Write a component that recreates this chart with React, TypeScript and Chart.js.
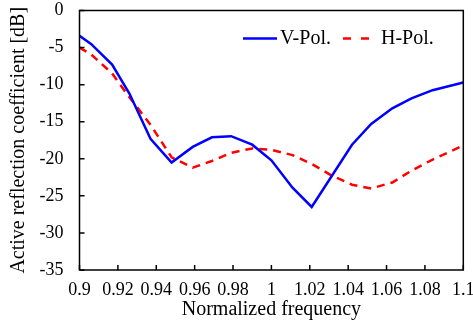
import { useEffect, useRef } from 'react';
import { Chart, registerables } from 'chart.js';

Chart.register(...registerables);

const seriesLabels = ['V-Pol.', 'H-Pol.'];

const vFreq = [0.9, 0.906, 0.917, 0.926, 0.937, 0.948, 0.959, 0.969, 0.979, 0.99, 1.0, 1.011, 1.021, 1.042, 1.052, 1.063, 1.073, 1.084, 1.1];
const vVal = [-3.4, -4.5, -7.3, -11.2, -17.3, -20.5, -18.4, -17.1, -16.95, -18.1, -20.2, -23.9, -26.5, -18.1, -15.3, -13.2, -11.85, -10.75, -9.7];

const hFreq = [0.9, 0.906, 0.917, 0.926, 0.937, 0.948, 0.959, 0.969, 0.979, 0.99, 1.0, 1.011, 1.021, 1.031, 1.042, 1.052, 1.063, 1.073, 1.084, 1.1];
const hVal = [-5.0, -5.9, -8.5, -11.7, -15.4, -19.8, -21.2, -20.3, -19.2, -18.6, -18.8, -19.5, -20.7, -22.2, -23.5, -24.0, -23.2, -21.6, -20.1, -18.2];

const xMin = 0.9;
const xMax = 1.1;
const xStep = 0.02;
const yMin = -35;
const yMax = 0;
const yStep = 5;

const FONT = '"Liberation Serif", "Times New Roman", serif';

export default function App() {
  const ref = useRef<HTMLCanvasElement>(null);

  useEffect(() => {
    document.body.style.margin = '0';
    if (!ref.current) return;

    const framePlugin = {
      id: 'frameTicksLegend',
      afterDraw(chart: any) {
        const { ctx, chartArea } = chart;
        const { left, right, top, bottom } = chartArea;
        ctx.save();
        ctx.strokeStyle = '#000';
        ctx.lineWidth = 1.5;
        ctx.setLineDash([]);
        ctx.strokeRect(left, top, right - left, bottom - top);
        const xs = chart.scales.x;
        const ys = chart.scales.y;
        ctx.beginPath();
        xs.ticks.forEach((t: any) => {
          const px = xs.getPixelForValue(t.value);
          ctx.moveTo(px, bottom);
          ctx.lineTo(px, bottom - 5);
        });
        ys.ticks.forEach((t: any) => {
          const py = ys.getPixelForValue(t.value);
          ctx.moveTo(left, py);
          ctx.lineTo(left + 5, py);
        });
        ctx.stroke();

        // legend
        const items = [
          { x0: 243, x1: 277, tx: 280 },
          { x0: 343, x1: 370, tx: 381 },
        ];
        const ly = 38.5;
        chart.data.datasets.forEach((ds: any, i: number) => {
          const it = items[i];
          ctx.beginPath();
          ctx.strokeStyle = ds.borderColor;
          ctx.lineWidth = ds.borderWidth;
          ctx.setLineDash(ds.borderDash ? [8, 10] : []);
          ctx.moveTo(it.x0, ly);
          ctx.lineTo(it.x1, ly);
          ctx.stroke();
          ctx.setLineDash([]);
          ctx.fillStyle = '#000';
          ctx.font = `20px ${FONT}`;
          ctx.textBaseline = 'middle';
          ctx.textAlign = 'left';
          ctx.fillText(ds.label, it.tx, ly);
        });
        ctx.restore();
      },
    };

    const chart = new Chart(ref.current, {
      type: 'line',
      data: {
        datasets: [
          {
            label: seriesLabels[0],
            data: vFreq.map((f, i) => ({ x: f, y: vVal[i] })),
            borderColor: '#0000FF',
            backgroundColor: '#0000FF',
            borderWidth: 2.5,
            pointRadius: 0,
            tension: 0,
            fill: false,
          },
          {
            label: seriesLabels[1],
            data: hFreq.map((f, i) => ({ x: f, y: hVal[i] })),
            borderColor: '#FF0000',
            backgroundColor: '#FF0000',
            borderWidth: 2.5,
            borderDash: [8, 6],
            pointRadius: 0,
            tension: 0,
            fill: false,
          },
        ],
      },
      options: {
        responsive: false,
        animation: false,
        layout: { padding: { top: 10.5, right: 9.7, left: 0, bottom: 0 } },
        plugins: {
          legend: { display: false },
          tooltip: { enabled: false },
        },
        scales: {
          x: {
            type: 'linear',
            min: xMin,
            max: xMax,
            grid: { display: false, drawTicks: false },
            border: { display: false },
            ticks: {
              stepSize: xStep,
              padding: 9.5,
              maxRotation: 0,
              autoSkip: false,
              color: '#000',
              font: { family: FONT, size: 18 },
              callback: (v: any) => String(Number(Number(v).toFixed(2))),
            },
            title: {
              display: true,
              text: 'Normalized frequency',
              color: '#000',
              font: { family: FONT, size: 20 },
              padding: { top: 0, bottom: 14 },
            },
            afterFit: (s: any) => {
              s.height = 66;
              s.paddingLeft = 0;
              s.paddingRight = 0;
            },
          },
          y: {
            type: 'linear',
            min: yMin,
            max: yMax,
            grid: { display: false, drawTicks: false },
            border: { display: false },
            ticks: {
              stepSize: yStep,
              padding: 16,
              color: '#000',
              font: { family: FONT, size: 18 },
            },
            title: {
              display: true,
              text: 'Active reflection coefficient [dB]',
              color: '#000',
              font: { family: FONT, size: 20 },
              padding: { top: 7, bottom: 0 },
            },
            afterFit: (s: any) => {
              s.width = 79.5;
              s.paddingTop = 0;
              s.paddingBottom = 0;
            },
          },
        },
      },
      plugins: [framePlugin],
    } as any);

    return () => {
      chart.destroy();
    };
  }, []);

  return (
    <div style={{ width: 473, height: 336 }}>
      <canvas ref={ref} width={473} height={336} />
    </div>
  );
}
